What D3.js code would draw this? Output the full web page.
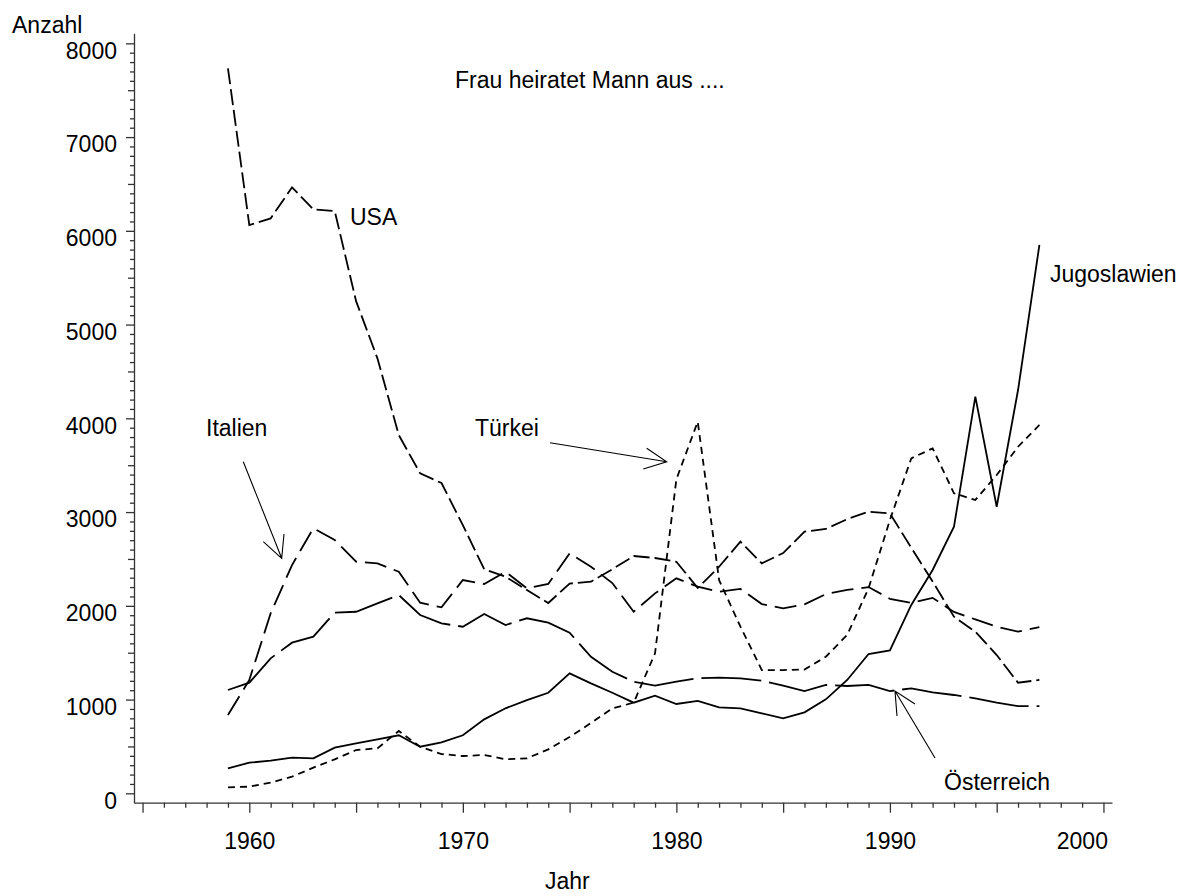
<!DOCTYPE html>
<html>
<head>
<meta charset="utf-8">
<script src="https://cdn.jsdelivr.net/npm/d3@7/dist/d3.min.js"></script>
<style>
    body { margin: 0; background: #fff; }
    text { font-family: "Liberation Sans", Arial, sans-serif; fill: #000; }
</style>
</head>
<body>
<script>
const w = 1185, h = 896;

const years = d3.range(1959, 1998);
const usa = [7733, 6062, 6133, 6464, 6229, 6211, 5250, 4640, 3822, 3413, 3310, 2860, 2390, 2311, 2169, 2030, 2238, 2257, 2390, 2531,
    2510, 2470, 2190, 2417, 2684, 2453, 2563, 2791, 2820, 2925, 3004, 2985, 2620, 2260, 1884, 1724, 1475, 1180, 1209];
const italien = [835, 1209, 1920, 2435, 2827, 2702, 2471, 2453, 2364, 2033, 1984, 2275, 2233, 2364, 2187, 2233, 2560, 2417, 2243, 1937,
    2133, 2293, 2204, 2151, 2180, 2019, 1973, 2015, 2125, 2169, 2200, 2075, 2030, 2085, 1935, 1855, 1778, 1724, 1772];
const tuerkei = [64, 71, 114, 178, 274, 363, 462, 480, 665, 497, 419, 398, 409, 363, 373, 469, 600, 750, 906, 967,
    1493, 3350, 3964, 2275, 1777, 1315, 1315, 1320, 1457, 1690, 2187, 2916, 3573, 3680, 3200, 3129, 3395, 3697, 3929];
const jugoslawien = [267, 327, 348, 380, 373, 487, 533, 576, 619, 497, 544, 619, 789, 907, 995, 1073, 1280, 1173, 1073, 967,
    1041, 953, 985, 917, 907, 853, 800, 864, 1002, 1209, 1486, 1525, 2009, 2382, 2844, 4231, 3057, 4302, 5849];
const oesterreich = [1102, 1180, 1440, 1607, 1671, 1927, 1937, 2027, 2115, 1902, 1813, 1777, 1913, 1795, 1867, 1820, 1713, 1457, 1297, 1191,
    1148, 1191, 1227, 1234, 1227, 1202, 1148, 1091, 1156, 1145, 1156, 1091, 1120, 1077, 1049, 1013, 967, 931, 931];

const series = [
    { name: "USA", values: usa, dash: "16,5" },
    { name: "Italien", values: italien, dash: "22,8" },
    { name: "Türkei", values: tuerkei, dash: "7,5" },
    { name: "Jugoslawien", values: jugoslawien, dash: null },
    { name: "Österreich", values: oesterreich, dash: "60,8" }
];

const xScale = d3.scaleLinear().domain([1954.6, 2000.4]).range([134, 1112]);
const yScale = d3.scaleLinear().domain([-100, 8107]).range([802.7, 33.3]);

const svg = d3.select("body")
    .append("svg")
    .attr("width", w)
    .attr("height", h);

// axes
const yAxis = svg.append("g")
    .attr("transform", "translate(134,0)")
    .call(d3.axisLeft(yScale)
        .tickValues(d3.range(0, 8001, 100))
        .tickSizeOuter(0)
        .tickPadding(9)
        .tickFormat(d => d % 1000 === 0 ? d : ""));
yAxis.selectAll(".tick line")
    .attr("x2", d => d % 1000 === 0 ? -8 : (d % 500 === 0 ? -6 : -4));
yAxis.selectAll(".tick text")
    .attr("x", -17)
    .attr("dy", "0.64em");

const xAxis = svg.append("g")
    .attr("transform", "translate(0,802.7)")
    .call(d3.axisBottom(xScale)
        .tickValues(d3.range(1955, 2001, 1))
        .tickSizeOuter(0)
        .tickFormat(d => d % 10 === 0 ? d : ""));
xAxis.selectAll(".tick line")
    .attr("y2", d => d % 5 === 0 ? 10 : 5);
xAxis.selectAll(".tick text")
    .attr("y", 46)
    .attr("dy", 0);
// last label sits left of its tick
xAxis.selectAll(".tick text")
    .filter(d => d === 2000)
    .attr("text-anchor", "end")
    .attr("x", 4);

svg.selectAll(".domain, .tick line")
    .attr("stroke", "#333")
    .attr("stroke-width", 1.3);
svg.selectAll(".tick text")
    .style("font-size", "23px")
    .style("font-family", "'Liberation Sans', Arial, sans-serif");

// lines
const line = d3.line()
    .x((d, i) => xScale(years[i]))
    .y(d => yScale(d));

svg.selectAll("path.series")
    .data(series)
    .enter()
    .append("path")
    .attr("class", "series")
    .attr("d", d => line(d.values))
    .attr("fill", "none")
    .attr("stroke", "#000")
    .attr("stroke-width", 1.8)
    .attr("stroke-dasharray", d => d.dash);

// arrows
const arrows = [
    { from: [243.3, 461.7], to: [281.7, 558.3], head: [[263.3, 541.7], [284, 534]] },
    { from: [550, 442.7], to: [666.7, 461.7], head: [[646.7, 448.3], [643.3, 469]] },
    { from: [935, 758], to: [895, 691], head: [[897, 716], [915, 704]] }
];
arrows.forEach(a => {
    svg.append("path")
        .attr("d", d3.line()([a.from, a.to]) + "M" + a.head[0] + "L" + a.to + "L" + a.head[1])
        .attr("fill", "none")
        .attr("stroke", "#000")
        .attr("stroke-width", 1.1);
});

// texts
const labels = [
    { text: "Anzahl", x: 12, y: 33 },
    { text: "Frau heiratet Mann aus ....", x: 455, y: 88 },
    { text: "USA", x: 350, y: 225 },
    { text: "Italien", x: 206, y: 436 },
    { text: "Türkei", x: 475, y: 436 },
    { text: "Jugoslawien", x: 1050, y: 282 },
    { text: "Österreich", x: 944, y: 790 },
    { text: "Jahr", x: 545, y: 889 }
];
svg.selectAll("text.label")
    .data(labels)
    .enter()
    .append("text")
    .attr("class", "label")
    .attr("x", d => d.x)
    .attr("y", d => d.y)
    .style("font-size", "23px")
    .text(d => d.text);
</script>
</body>
</html>
